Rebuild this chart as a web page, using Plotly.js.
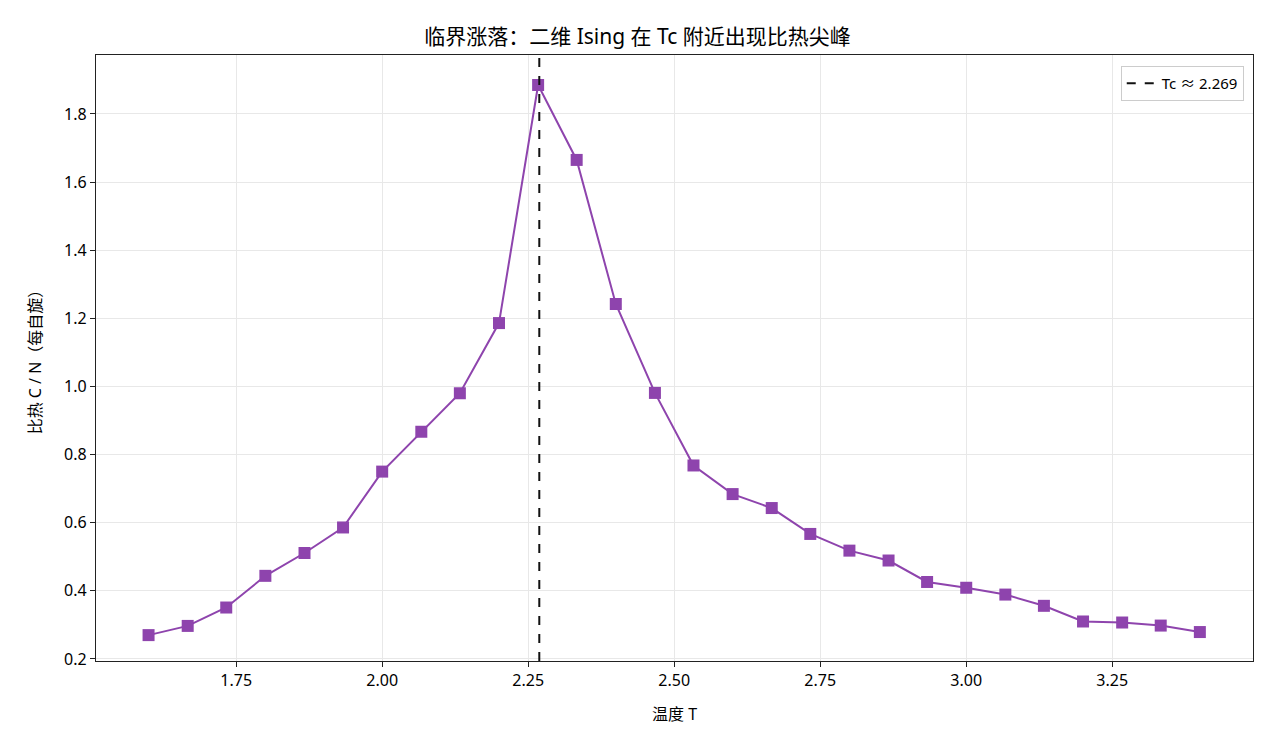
<!DOCTYPE html>
<html>
<head>
<meta charset="utf-8">
<script src="https://cdn.plot.ly/plotly-3.0.1.min.js"></script>
<style>html,body{margin:0;padding:0;background:#fff;}#chart{width:1275px;height:750px;}</style>
</head>
<body>
<div id="chart"></div>
<script>
const temperatures = [1.6, 1.667, 1.733, 1.8, 1.867, 1.933, 2.0, 2.067, 2.133, 2.2, 2.267, 2.333, 2.4, 2.467,
  2.533, 2.6, 2.667, 2.733, 2.8, 2.867, 2.933, 3.0, 3.067, 3.133, 3.2, 3.267, 3.333, 3.4];
const specificHeat = [0.270, 0.297, 0.351, 0.444, 0.511, 0.586, 0.750, 0.867, 0.980, 1.186, 1.885, 1.665, 1.242, 0.981,
  0.768, 0.684, 0.643, 0.567, 0.518, 0.489, 0.426, 0.409, 0.389, 0.356, 0.310, 0.307, 0.298, 0.279];
const Tc = 2.269;
const xTicks = [1.75, 2.00, 2.25, 2.50, 2.75, 3.00, 3.25];
const yTicks = [0.2, 0.4, 0.6, 0.8, 1.0, 1.2, 1.4, 1.6, 1.8];

const FONT = "Noto Sans, Noto Sans CJK SC, sans-serif";

const traces = [
  {
    x: temperatures, y: specificHeat, type: 'scatter', mode: 'lines+markers',
    line: {color: '#8e44ad', width: 2},
    marker: {symbol: 'square', size: 12, color: '#8e44ad'},
    showlegend: false
  },
  {
    x: [Tc], y: [null], type: 'scatter', mode: 'lines',
    name: 'Tc ≈ ' + Tc.toFixed(3),
    line: {color: '#111', width: 2, dash: 'dash'},
    showlegend: true
  }
];

const layout = {
  width: 1275, height: 750,
  paper_bgcolor: '#fff', plot_bgcolor: '#fff',
  margin: {l: 96, r: 22, t: 55, b: 89},
  font: {family: FONT, color: '#000', size: 16},
  title: {text: '临界涨落：二维 Ising 在 Tc 附近出现比热尖峰', x: 0.5, xanchor: 'center', y: 0.951, yanchor: 'middle',
    font: {family: FONT, size: 21, color: '#000'}},
  xaxis: {
    range: [1.51, 3.491], tickvals: xTicks, ticktext: xTicks.map(v => v.toFixed(2)),
    showgrid: true, gridcolor: '#e8e8e8', gridwidth: 1, zeroline: false,
    showline: true, linecolor: '#222', linewidth: 1.2, mirror: true,
    ticks: 'outside', ticklen: 5, tickcolor: '#222', tickfont: {size: 16},
    title: {text: '温度 T', font: {size: 16}, standoff: 18}
  },
  yaxis: {
    range: [0.194, 1.973], tickvals: yTicks, ticktext: yTicks.map(v => v.toFixed(1)),
    showgrid: true, gridcolor: '#e8e8e8', gridwidth: 1, zeroline: false,
    showline: true, linecolor: '#222', linewidth: 1.2, mirror: true,
    ticks: 'outside', ticklen: 5, tickcolor: '#222', tickfont: {size: 16},
    title: {text: '比热 C / N（每自旋）', font: {size: 16}, standoff: 18}
  },
  shapes: [
    {type: 'line', xref: 'x', yref: 'paper', x0: Tc, x1: Tc, y0: 0, y1: 1,
     line: {color: '#111', width: 2, dash: 'dash'}, layer: 'above'}
  ],
  legend: {x: 0.992, y: 0.982, xanchor: 'right', yanchor: 'top',
    bgcolor: 'rgba(255,255,255,0.9)', bordercolor: '#ccc', borderwidth: 1,
    font: {size: 15}, itemwidth: 30}
};

Plotly.newPlot('chart', traces, layout, {displayModeBar: false, staticPlot: true});
</script>
</body>
</html>
